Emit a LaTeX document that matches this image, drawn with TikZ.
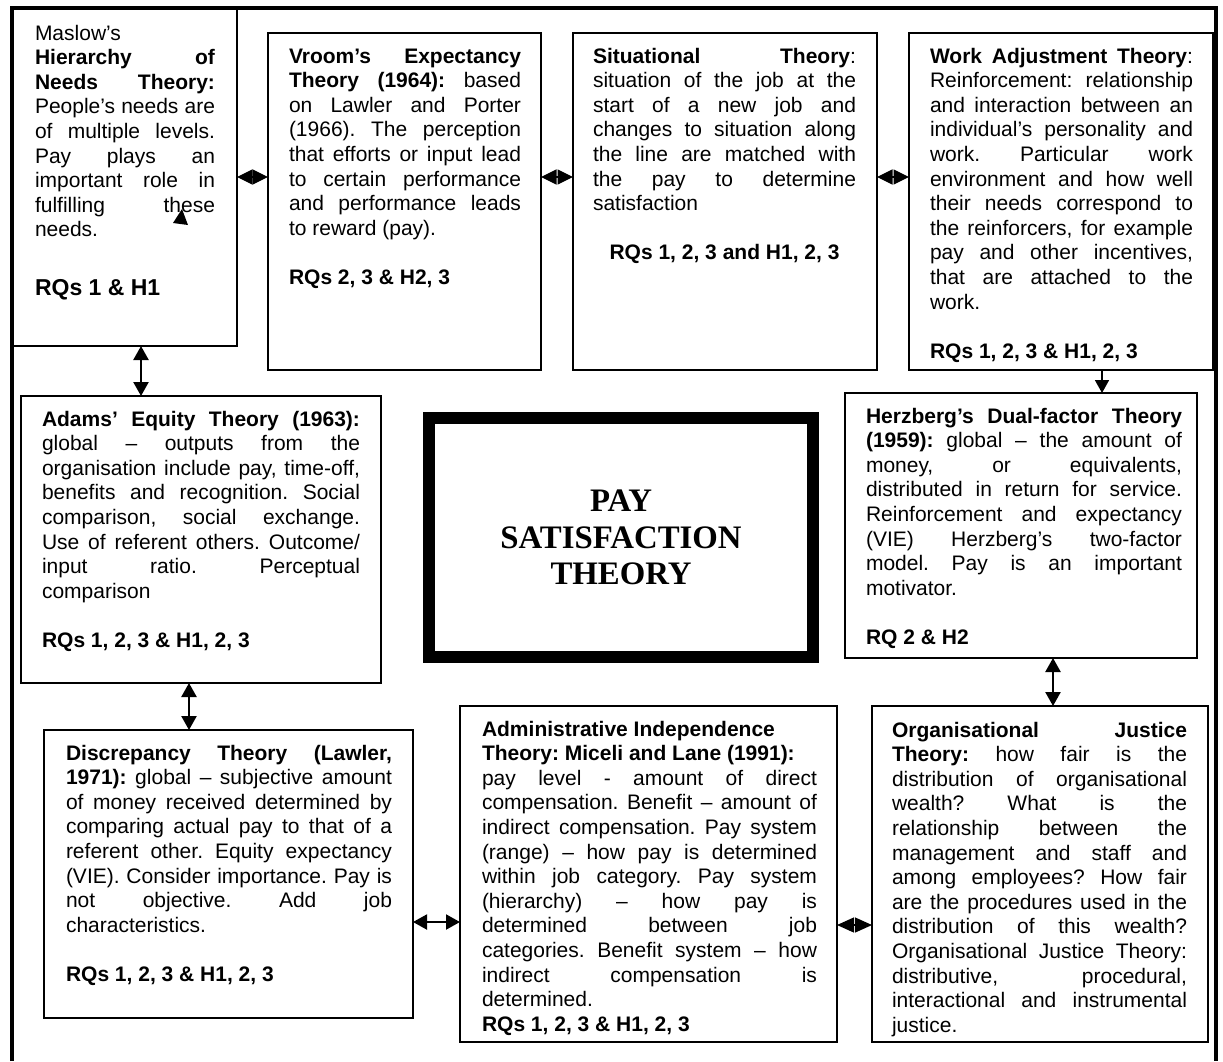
\documentclass[tikz,border=0pt]{standalone}
\usepackage{fontspec}
\setmainfont{Liberation Sans}
\newfontfamily\ptserif{Liberation Serif}
\usetikzlibrary{arrows.meta}
\frenchspacing
\newcommand\jline[1]{\makebox[\hsize][s]{#1}\par}
\newcommand\rline[1]{\makebox[\hsize][l]{#1}\par}
\newcommand\centline[1]{\makebox[\hsize][c]{#1}\par}
\newcommand\blankline{\rline{}}
\newcommand\tbox[2]{\vtop{\hsize=#1pt\parindent=0pt\parskip=0pt\fontsize{21pt}{24.6pt}\selectfont\frenchspacing #2}}
\begin{document}
\begin{tikzpicture}[x=1pt,y=-1pt,
  bx/.style={draw, line width=1.6pt, inner sep=0pt, outer sep=0pt, rectangle},
  tx/.style={anchor=base west, inner sep=0pt, outer sep=0pt},
  diam/.style={line width=1.2pt, {Triangle[length=15.5pt,width=15pt]}-{Triangle[length=15.5pt,width=15pt]}},
  diamb/.style={line width=1.2pt, {Triangle[length=17pt,width=15pt]}-{Triangle[length=17pt,width=15pt]}},
  dbl/.style={line width=2.4pt, {Triangle[length=14pt,width=15pt]}-{Triangle[length=14pt,width=15pt]}},
  dblh/.style={line width=2pt, {Triangle[length=14pt,width=15pt]}-{Triangle[length=14pt,width=15pt]}},
  sgl/.style={line width=1.6pt, -{Triangle[length=13pt,width=14pt]}}]
\useasboundingbox (0,0) rectangle (1223,1061);
% boxes
\node[bx, minimum width=225pt, minimum height=338pt] (maslow) at (124.5,177) {};
\node[bx, minimum width=273pt, minimum height=337pt] (vroom) at (404.5,201.5) {};
\node[bx, minimum width=304pt, minimum height=337pt] (situ) at (725,201.5) {};
\node[bx, minimum width=304pt, minimum height=337pt] (work) at (1061,201.5) {};
\node[bx, minimum width=360pt, minimum height=287pt] (adams) at (201,539.5) {};
\node[bx, minimum width=352pt, minimum height=265pt] (herz) at (1021,525.5) {};
\node[bx, minimum width=369pt, minimum height=288pt] (disc) at (228.5,874) {};
\node[bx, minimum width=377pt, minimum height=336pt] (admin) at (648.5,874) {};
\node[bx, minimum width=336pt, minimum height=336pt] (org) at (1040,874) {};
\node[draw, line width=12pt, inner sep=0pt, outer sep=0pt, minimum width=384pt, minimum height=239pt, align=center,
  font=\ptserif\bfseries\fontsize{32.8pt}{36.6pt}\selectfont] (core) at (621,537.5) {PAY\\SATISFACTION\\THEORY};
% outer frame
\draw[line width=4pt] (12,1061) -- (12,8) -- (1216,8) -- (1216,1061);
% texts
\node[tx] (tmaslow) at (35,40) {\tbox{180}{%
\rline{Maslow’s}
\jline{\textbf{Hierarchy of}}
\jline{\textbf{Needs Theory:}}
\jline{People’s needs are}
\jline{of multiple levels.}
\jline{Pay plays an}
\jline{important role in}
\jline{fulfilling these}
\rline{needs.}}};
\node[tx] (rqmaslow) at (35,295) {\fontsize{23pt}{27pt}\selectfont\bfseries RQs 1 \& H1};
\node[tx] (tvroom) at (289,63) {\tbox{232}{%
\jline{\textbf{Vroom’s Expectancy}}
\jline{\textbf{Theory (1964):} based}
\jline{on Lawler and Porter}
\jline{(1966). The perception}
\jline{that efforts or input lead}
\jline{to certain performance}
\jline{and performance leads}
\rline{to reward (pay).}
\blankline
\rline{\textbf{RQs 2, 3 \& H2, 3}}}};
\node[tx] (tsitu) at (593,63) {\tbox{263}{%
\jline{\textbf{Situational Theory}:}
\jline{situation of the job at the}
\jline{start of a new job and}
\jline{changes to situation along}
\jline{the line are matched with}
\jline{the pay to determine}
\rline{satisfaction}
\blankline
\centline{\textbf{RQs 1, 2, 3 and H1, 2, 3}}}};
\node[tx] (twork) at (930,63) {\tbox{263}{%
\jline{\textbf{Work Adjustment Theory}:}
\jline{Reinforcement: relationship}
\jline{and interaction between an}
\jline{individual’s personality and}
\jline{work. Particular work}
\jline{environment and how well}
\jline{their needs correspond to}
\jline{the reinforcers, for example}
\jline{pay and other incentives,}
\jline{that are attached to the}
\rline{work.}
\blankline
\rline{\textbf{RQs 1, 2, 3 \& H1, 2, 3}}}};
\node[tx] (tadams) at (42,426) {\tbox{318}{%
\jline{\textbf{Adams’ Equity Theory (1963):}}
\jline{global – outputs from the}
\jline{organisation include pay, time-off,}
\jline{benefits and recognition. Social}
\jline{comparison, social exchange.}
\jline{Use of referent others. Outcome/}
\jline{input ratio. Perceptual}
\rline{comparison}
\blankline
\rline{\textbf{RQs 1, 2, 3 \& H1, 2, 3}}}};
\node[tx] (therz) at (866,423) {\tbox{316}{%
\jline{\textbf{Herzberg’s Dual-factor Theory}}
\jline{\textbf{(1959):} global – the amount of}
\jline{money, or equivalents,}
\jline{distributed in return for service.}
\jline{Reinforcement and expectancy}
\jline{(VIE) Herzberg’s two-factor}
\jline{model. Pay is an important}
\rline{motivator.}
\blankline
\rline{\textbf{RQ 2 \& H2}}}};
\node[tx] (tdisc) at (66,760) {\tbox{326}{%
\jline{\textbf{Discrepancy Theory (Lawler,}}
\jline{\textbf{1971):} global – subjective amount}
\jline{of money received determined by}
\jline{comparing actual pay to that of a}
\jline{referent other. Equity expectancy}
\jline{(VIE). Consider importance. Pay is}
\jline{not objective. Add job}
\rline{characteristics.}
\blankline
\rline{\textbf{RQs 1, 2, 3 \& H1, 2, 3}}}};
\node[tx] (tadmin) at (482,736) {\tbox{335}{%
\rline{\textbf{Administrative Independence}}
\rline{\textbf{Theory: Miceli and Lane (1991):}}
\jline{pay level - amount of direct}
\jline{compensation. Benefit – amount of}
\jline{indirect compensation. Pay system}
\jline{(range) – how pay is determined}
\jline{within job category. Pay system}
\jline{(hierarchy) – how pay is}
\jline{determined between job}
\jline{categories. Benefit system – how}
\jline{indirect compensation is}
\rline{determined.}
\rline{\textbf{RQs 1, 2, 3 \& H1, 2, 3}}}};
\node[tx] (torg) at (892,737) {\tbox{295}{%
\jline{\textbf{Organisational Justice}}
\jline{\textbf{Theory:} how fair is the}
\jline{distribution of organisational}
\jline{wealth? What is the}
\jline{relationship between the}
\jline{management and staff and}
\jline{among employees? How fair}
\jline{are the procedures used in the}
\jline{distribution of this wealth?}
\jline{Organisational Justice Theory:}
\jline{distributive, procedural,}
\jline{interactional and instrumental}
\rline{justice.}}};
% connectors
\draw[diam] (maslow.east) -- (maslow.east -| vroom.west);
\draw[diam] (vroom.east |- maslow.east) -- (situ.west |- maslow.east);
\draw[diam] (situ.east |- maslow.east) -- (work.west |- maslow.east);
\draw[dbl] ([xshift=16.5pt]maslow.south) -- ([xshift=16.5pt]maslow.south |- adams.north);
\draw[dbl] ([xshift=-12pt]adams.south) -- ([xshift=-12pt]adams.south |- disc.north);
\draw[sgl] ([xshift=41pt]work.south) -- ([xshift=41pt]work.south |- herz.north);
\draw[dbl] ([xshift=32pt]herz.south) -- ([xshift=32pt]herz.south |- org.north);
\draw[dblh] ([yshift=-48pt]disc.east) -- ([yshift=-48pt]disc.east -| admin.west);
\draw[diamb] ([yshift=-51pt]admin.east) -- ([yshift=-51pt]admin.east -| org.west);
% stray arrowhead inside the Maslow box
\fill (182,209) -- (173,223) -- (188,225) -- cycle;
\end{tikzpicture}
\end{document}
